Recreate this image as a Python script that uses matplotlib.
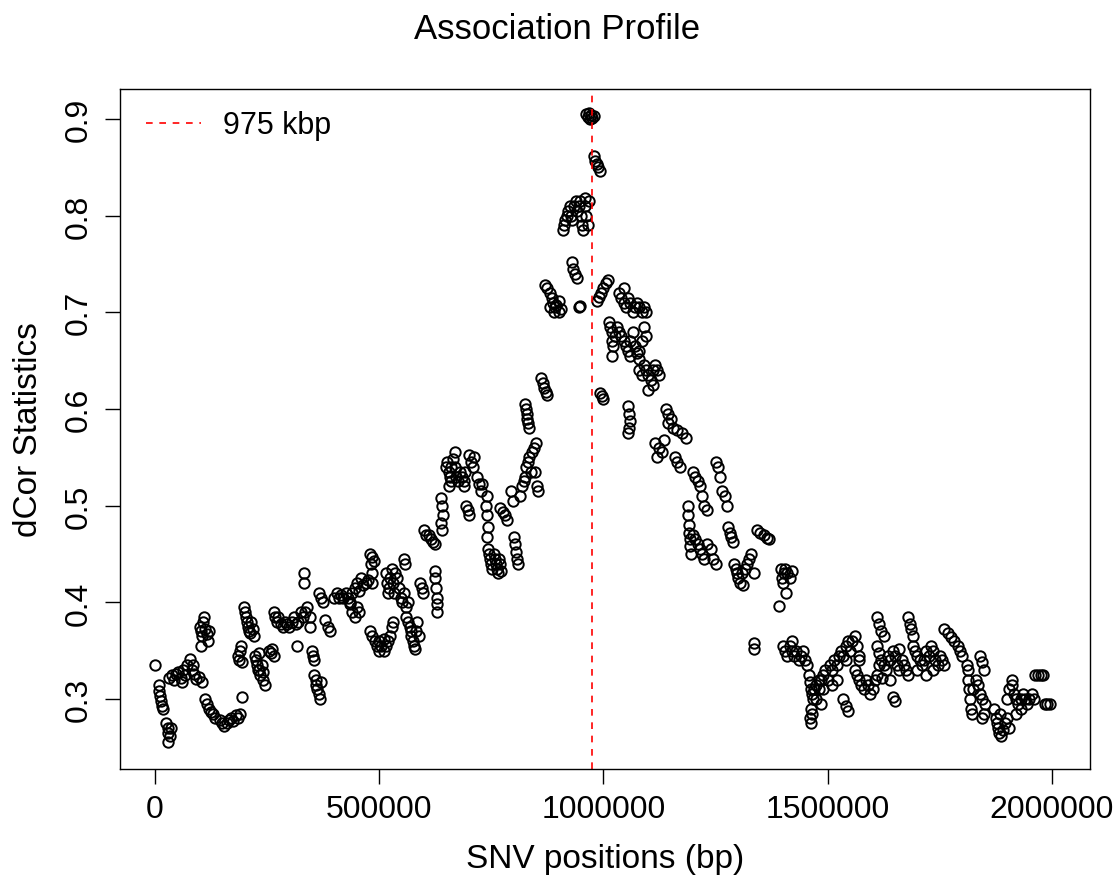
import matplotlib
matplotlib.use("Agg")
import matplotlib.pyplot as plt

plt.rcParams["font.family"] = ["Liberation Sans", "DejaVu Sans"]

# SNV positions (bp) and dCor statistics, left flank (0 - 900 kbp)
left_pos = [
    0, 8000, 10000, 12000, 14000, 16000, 18000,
    25000, 28000, 30000, 33000, 30000, 35000,
    32000, 38000, 42000, 48000, 52000, 58000, 62000, 68000, 72000, 78000, 82000, 88000, 92000, 98000, 104000, 60000, 85000,
    100000, 102000, 105000, 108000, 110000, 112000, 115000, 118000, 120000, 103000,
    112000, 116000, 120000, 125000, 130000, 135000, 145000, 150000, 155000, 160000, 165000, 170000, 175000, 180000, 185000, 190000, 194000,
    185000, 188000, 190000, 192000, 195000,
    198000, 200000, 203000, 205000, 208000, 210000, 213000, 215000, 218000, 220000,
    222000, 225000, 228000, 230000, 233000, 235000, 238000, 240000, 242000, 245000, 232000,
    255000, 258000, 262000, 265000,
    265000, 268000, 272000, 275000, 280000, 285000, 290000, 295000, 300000, 305000, 310000, 315000, 320000, 325000, 330000, 335000,
    332000, 333000, 340000, 345000, 345000, 316000, 350000, 352000, 355000,
    355000, 358000, 360000, 362000, 365000, 368000, 370000,
    380000, 385000, 390000,
    365000, 370000, 375000, 400000, 405000, 410000, 415000, 420000, 425000, 430000, 435000, 440000, 445000, 450000,
    455000, 460000, 465000, 470000, 475000, 450000, 455000, 435000, 440000, 445000,
    485000, 488000, 480000, 482000, 485000, 483000,
    480000, 485000, 490000, 495000, 500000, 505000, 510000, 515000, 520000, 525000, 528000, 530000, 500000, 510000,
    515000, 518000, 520000, 522000, 525000, 528000, 530000, 532000, 535000, 540000, 545000, 548000, 550000, 555000, 560000, 565000, 555000, 557000,
    560000, 565000, 568000, 570000, 572000, 575000, 578000, 580000, 582000, 585000, 588000,
    592000, 595000, 598000,
    625000, 625000, 627000, 628000, 630000, 628000,
    600000, 605000, 610000, 615000, 620000, 625000,
    637000, 640000, 642000, 638000, 640000,
    648000, 652000, 655000, 658000, 660000, 665000, 668000, 670000, 672000, 675000, 680000, 685000, 688000, 690000, 655000, 660000, 692000,
    700000, 705000, 710000, 712000,
    693000, 697000, 700000,
    718000, 722000, 726000, 730000,
    740000, 738000, 740000, 742000, 740000,
    742000, 745000, 748000, 750000, 752000, 755000, 758000, 760000, 762000, 765000, 768000, 770000, 772000,
    770000, 775000, 780000, 785000, 795000, 798000,
    800000, 803000, 806000, 808000, 810000,
    815000, 818000, 822000, 825000, 828000, 832000, 835000, 840000, 845000, 850000, 848000, 852000, 855000, 838000,
    825000, 828000, 830000, 832000, 835000, 830000,
    860000, 865000, 868000, 872000, 875000,
]
left_dcor = [
    0.335, 0.315, 0.308, 0.303, 0.298, 0.293, 0.290,
    0.275, 0.270, 0.265, 0.262, 0.256, 0.270,
    0.322, 0.325, 0.320, 0.326, 0.328, 0.322, 0.330, 0.325, 0.335, 0.341, 0.330, 0.326, 0.321, 0.323, 0.318, 0.318, 0.335,
    0.375, 0.370, 0.365, 0.380, 0.385, 0.372, 0.367, 0.360, 0.370, 0.355,
    0.300, 0.295, 0.290, 0.287, 0.285, 0.280, 0.278, 0.275, 0.272, 0.275, 0.278, 0.280, 0.277, 0.283, 0.280, 0.285, 0.302,
    0.345, 0.340, 0.350, 0.355, 0.338,
    0.395, 0.390, 0.385, 0.380, 0.375, 0.370, 0.368, 0.380, 0.372, 0.365,
    0.345, 0.340, 0.335, 0.330, 0.330, 0.325, 0.335, 0.328, 0.320, 0.315, 0.348,
    0.350, 0.348, 0.352, 0.345,
    0.390, 0.385, 0.380, 0.385, 0.378, 0.375, 0.380, 0.378, 0.375, 0.380, 0.385, 0.378, 0.380, 0.390, 0.385, 0.390,
    0.430, 0.420, 0.395, 0.385, 0.375, 0.355, 0.350, 0.345, 0.340,
    0.325, 0.320, 0.315, 0.310, 0.305, 0.300, 0.318,
    0.382, 0.375, 0.370,
    0.410, 0.405, 0.400, 0.405, 0.410, 0.405, 0.408, 0.405, 0.410, 0.405, 0.400, 0.410, 0.415, 0.420,
    0.412, 0.425, 0.418, 0.420, 0.423, 0.395, 0.390, 0.398, 0.390, 0.385,
    0.447, 0.443, 0.450, 0.440, 0.430, 0.420,
    0.370, 0.365, 0.360, 0.355, 0.350, 0.355, 0.350, 0.355, 0.360, 0.365, 0.375, 0.380, 0.360, 0.362,
    0.430, 0.420, 0.410, 0.415, 0.425, 0.435, 0.420, 0.410, 0.430, 0.425, 0.415, 0.405, 0.400, 0.410, 0.395, 0.400, 0.445, 0.440,
    0.385, 0.380, 0.375, 0.370, 0.365, 0.360, 0.355, 0.352, 0.370, 0.380, 0.365,
    0.420, 0.415, 0.410,
    0.432, 0.425, 0.415, 0.405, 0.398, 0.390,
    0.475, 0.470, 0.470, 0.465, 0.462, 0.460,
    0.508, 0.500, 0.490, 0.482, 0.475,
    0.540, 0.545, 0.535, 0.530, 0.540, 0.548, 0.555, 0.540, 0.530, 0.525, 0.535, 0.530, 0.525, 0.520, 0.520, 0.525, 0.535,
    0.552, 0.545, 0.540, 0.550,
    0.500, 0.495, 0.490,
    0.530, 0.522, 0.515, 0.522,
    0.510, 0.500, 0.490, 0.478, 0.468,
    0.455, 0.450, 0.445, 0.440, 0.435, 0.450, 0.445, 0.440, 0.435, 0.430, 0.445, 0.440, 0.432,
    0.498, 0.493, 0.490, 0.485, 0.515, 0.505,
    0.468, 0.460, 0.452, 0.445, 0.440,
    0.510, 0.520, 0.525, 0.530, 0.540, 0.545, 0.550, 0.555, 0.560, 0.565, 0.535, 0.520, 0.515, 0.535,
    0.605, 0.600, 0.595, 0.585, 0.580, 0.590,
    0.632, 0.627, 0.622, 0.618, 0.614,
]

# peak region (870 - 1000 kbp)
peak_pos = [
    870000, 875000, 880000, 885000, 888000, 892000, 895000, 900000, 880000, 890000, 900000, 905000, 945000, 948000,
    930000, 933000, 936000, 940000,
    910000, 912000, 915000, 918000, 920000, 925000, 928000, 930000, 935000, 938000, 940000,
    945000, 948000, 950000, 952000, 955000, 958000, 960000, 962000, 965000, 968000,
    962000, 965000, 968000, 970000, 972000, 975000, 978000,
    978000, 982000, 985000, 988000, 992000,
]
peak_dcor = [
    0.728, 0.725, 0.720, 0.715, 0.710, 0.705, 0.708, 0.712, 0.705, 0.700, 0.700, 0.703, 0.705, 0.707,
    0.752, 0.745, 0.740, 0.735,
    0.785, 0.790, 0.795, 0.800, 0.805, 0.810, 0.800, 0.795, 0.810, 0.815, 0.805,
    0.810, 0.815, 0.800, 0.790, 0.785, 0.810, 0.818, 0.800, 0.790, 0.815,
    0.905, 0.902, 0.906, 0.900, 0.904, 0.901, 0.903,
    0.862, 0.857, 0.853, 0.850, 0.846,
]

# right flank (985 kbp - 2 Mbp)
right_pos = [
    985000, 990000, 995000, 1000000, 1005000, 1010000,
    992000, 997000, 1000000,
    1035000, 1040000, 1045000, 1050000, 1055000, 1060000, 1065000, 1070000, 1075000, 1080000, 1085000, 1090000, 1095000, 1045000,
    1012000, 1015000, 1018000, 1020000, 1022000, 1025000, 1030000, 1035000, 1040000, 1045000, 1050000, 1055000,
    1060000, 1065000, 1070000, 1075000, 1080000, 1085000, 1090000, 1095000, 1020000, 1060000, 1080000,
    1080000, 1085000, 1090000, 1095000, 1100000, 1105000, 1110000, 1115000, 1120000, 1125000, 1100000, 1110000,
    1055000, 1058000, 1060000, 1057000, 1055000,
    1140000, 1145000, 1150000, 1145000, 1155000, 1165000, 1175000, 1185000,
    1115000, 1125000, 1130000, 1120000, 1135000, 1160000, 1165000, 1170000,
    1250000, 1255000, 1260000, 1265000, 1270000, 1275000,
    1200000, 1205000, 1210000, 1215000, 1220000, 1225000, 1230000,
    1188000, 1188000, 1190000, 1190000, 1192000, 1193000, 1195000,
    1200000, 1205000, 1210000, 1215000, 1220000, 1225000, 1230000, 1240000, 1245000, 1250000,
    1278000, 1282000, 1285000, 1290000,
    1342000, 1350000, 1358000, 1365000, 1370000,
    1292000, 1295000, 1298000, 1300000, 1305000, 1310000, 1315000, 1320000, 1325000, 1330000, 1335000, 1312000,
    1395000, 1398000, 1400000, 1402000, 1405000, 1410000, 1415000, 1420000, 1408000, 1392000,
    1335000, 1335000,
    1400000, 1405000, 1410000, 1415000, 1420000, 1425000, 1430000, 1435000, 1440000, 1445000, 1450000, 1420000,
    1455000, 1458000, 1460000, 1462000, 1465000, 1468000, 1462000, 1465000, 1460000, 1462000,
    1475000, 1480000, 1485000, 1485000,
    1470000, 1475000, 1480000, 1490000, 1495000, 1500000, 1505000, 1510000, 1515000, 1520000, 1525000, 1530000,
    1535000, 1540000, 1545000, 1550000, 1555000, 1560000, 1565000, 1570000, 1490000, 1510000, 1520000, 1540000,
    1535000, 1540000, 1545000,
    1560000, 1565000, 1570000, 1575000, 1580000, 1585000, 1590000, 1595000, 1600000, 1605000, 1610000, 1615000, 1570000,
    1610000, 1615000, 1620000, 1625000,
    1610000, 1615000, 1620000, 1625000, 1630000, 1635000, 1640000, 1645000, 1650000, 1655000, 1660000, 1665000,
    1670000, 1675000, 1680000, 1622000, 1640000, 1660000,
    1645000, 1650000,
    1680000, 1683000, 1686000, 1690000,
    1690000, 1695000, 1700000, 1705000, 1710000, 1715000, 1720000, 1725000, 1730000, 1735000, 1740000, 1745000,
    1750000, 1755000, 1760000, 1700000, 1720000, 1735000,
    1760000, 1768000, 1775000, 1782000, 1790000, 1795000, 1800000,
    1810000, 1812000,
    1812000, 1815000, 1818000, 1820000, 1822000, 1825000, 1830000, 1835000, 1840000, 1845000, 1850000, 1848000, 1845000,
    1840000, 1845000, 1848000,
    1872000, 1875000, 1878000, 1880000, 1883000, 1886000, 1890000, 1895000, 1900000, 1905000, 1885000,
    1900000, 1905000, 1910000, 1912000, 1915000, 1920000, 1925000, 1930000, 1935000, 1940000, 1945000, 1950000,
    1955000, 1960000, 1920000, 1930000,
    1962000, 1968000, 1975000, 1980000,
    1985000, 1990000, 1995000,
]
right_dcor = [
    0.712, 0.716, 0.720, 0.725, 0.730, 0.733,
    0.617, 0.613, 0.610,
    0.720, 0.715, 0.710, 0.705, 0.715, 0.710, 0.700, 0.705, 0.710, 0.705, 0.700, 0.705, 0.700, 0.725,
    0.690, 0.685, 0.680, 0.670, 0.665, 0.675, 0.685, 0.680, 0.675, 0.670, 0.665, 0.660,
    0.670, 0.680, 0.665, 0.658, 0.660, 0.670, 0.685, 0.675, 0.655, 0.655, 0.652,
    0.640, 0.635, 0.645, 0.640, 0.635, 0.630, 0.640, 0.645, 0.640, 0.635, 0.620, 0.625,
    0.603, 0.595, 0.588, 0.580, 0.575,
    0.600, 0.595, 0.590, 0.585, 0.580, 0.578, 0.575, 0.570,
    0.565, 0.560, 0.555, 0.550, 0.568, 0.550, 0.545, 0.540,
    0.545, 0.540, 0.530, 0.515, 0.510, 0.500,
    0.535, 0.530, 0.525, 0.520, 0.510, 0.500, 0.495,
    0.500, 0.490, 0.480, 0.472, 0.465, 0.458, 0.450,
    0.470, 0.465, 0.460, 0.455, 0.450, 0.445, 0.460, 0.455, 0.445, 0.440,
    0.478, 0.472, 0.468, 0.462,
    0.475, 0.472, 0.470, 0.467, 0.465,
    0.440, 0.435, 0.430, 0.425, 0.420, 0.430, 0.435, 0.440, 0.445, 0.450, 0.430, 0.418,
    0.435, 0.425, 0.420, 0.430, 0.435, 0.430, 0.425, 0.432, 0.410, 0.396,
    0.358, 0.352,
    0.355, 0.350, 0.345, 0.355, 0.350, 0.345, 0.350, 0.340, 0.345, 0.350, 0.340, 0.360,
    0.335, 0.325, 0.318, 0.310, 0.305, 0.300, 0.290, 0.285, 0.280, 0.275,
    0.300, 0.310, 0.320, 0.295,
    0.310, 0.315, 0.320, 0.325, 0.330, 0.320, 0.335, 0.330, 0.340, 0.335, 0.345, 0.350,
    0.345, 0.355, 0.360, 0.350, 0.360, 0.365, 0.355, 0.345, 0.310, 0.315, 0.320, 0.340,
    0.300, 0.293, 0.288,
    0.330, 0.325, 0.320, 0.315, 0.310, 0.320, 0.315, 0.305, 0.310, 0.320, 0.325, 0.335, 0.340,
    0.385, 0.378, 0.370, 0.365,
    0.355, 0.348, 0.340, 0.335, 0.330, 0.345, 0.340, 0.350, 0.345, 0.335, 0.330, 0.340,
    0.335, 0.330, 0.325, 0.322, 0.320, 0.352,
    0.302, 0.298,
    0.385, 0.378, 0.372, 0.365,
    0.355, 0.350, 0.345, 0.340, 0.335, 0.340, 0.350, 0.345, 0.355, 0.350, 0.340, 0.335,
    0.345, 0.340, 0.335, 0.330, 0.325, 0.330,
    0.372, 0.368, 0.364, 0.360, 0.355, 0.350, 0.345,
    0.335, 0.330,
    0.320, 0.310, 0.300, 0.290, 0.285, 0.310, 0.320, 0.315, 0.305, 0.300, 0.295, 0.285, 0.280,
    0.345, 0.338, 0.330,
    0.290, 0.280, 0.275, 0.270, 0.265, 0.262, 0.268, 0.275, 0.280, 0.270, 0.285,
    0.300, 0.310, 0.315, 0.320, 0.305, 0.300, 0.295, 0.300, 0.305, 0.300, 0.295, 0.300,
    0.305, 0.300, 0.285, 0.290,
    0.325, 0.325, 0.325, 0.325,
    0.295, 0.295, 0.295,
]

peak_snv = 975000
legend_label = "975 kbp"
x_ticks = [0, 500000, 1000000, 1500000, 2000000]
y_ticks = [0.3, 0.4, 0.5, 0.6, 0.7, 0.8, 0.9]

fig = plt.figure(figsize=(11.15, 8.78), dpi=100)
ax = fig.add_axes([0.1076, 0.123, 0.870, 0.7745])

for pos, dcor in [(left_pos, left_dcor), (peak_pos, peak_dcor), (right_pos, right_dcor)]:
    ax.plot(pos, dcor, linestyle="none", marker="o", markersize=7.5,
            markerfacecolor="none", markeredgecolor="black", markeredgewidth=1.4)

ax.axvline(peak_snv, color="red", linestyle=(0, (4, 4)), linewidth=1.2, label=legend_label)

ax.set_xlim(-78000, 2085000)
ax.set_ylim(0.2276, 0.931)
ax.set_xticks(x_ticks)
ax.set_xticklabels([str(t) for t in x_ticks])
ax.set_yticks(y_ticks)
ax.set_yticklabels([f"{t:.1f}" for t in y_ticks], rotation=90, va="center")
ax.tick_params(axis="both", labelsize=23, length=11, width=1)
ax.tick_params(axis="x", pad=7)
ax.tick_params(axis="y", pad=8)
for s in ax.spines.values():
    s.set_linewidth(1)

ax.set_xlabel("SNV positions (bp)", fontsize=24, labelpad=14)
ax.set_ylabel("dCor Statistics", fontsize=24, labelpad=14)
fig.suptitle("Association Profile", fontsize=25, y=0.985)

ax.legend(loc="upper left", frameon=False, fontsize=22, handlelength=1.8,
          handletextpad=0.7, borderaxespad=0.3, bbox_to_anchor=(0.005, 1.0))

fig.savefig("out.png", dpi=100)
